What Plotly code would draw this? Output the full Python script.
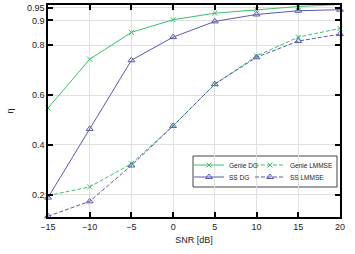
import plotly.graph_objects as go

snr = [-15, -10, -5, 0, 5, 10, 15, 20]
genie_dg = [0.548, 0.744, 0.852, 0.903, 0.929, 0.944, 0.956, 0.964]
ss_dg = [0.188, 0.464, 0.740, 0.833, 0.896, 0.924, 0.939, 0.943]
genie_lmmse = [0.196, 0.231, 0.324, 0.477, 0.644, 0.757, 0.833, 0.868]
ss_lmmse = [0.113, 0.173, 0.317, 0.476, 0.644, 0.752, 0.817, 0.845]
yticks = [0.2, 0.4, 0.6, 0.8, 0.9, 0.95]
ytick_text = ["0.2", "0.4", "0.6", "0.8", "0.9", "0.95"]
xticks = [-15, -10, -5, 0, 5, 10, 15, 20]

green = "#3cbf6e"
blue = "#5a5aaa"
dash_style = "4px,2px"

fig = go.Figure()
fig.add_trace(go.Scatter(x=snr, y=genie_dg, name="Genie DG", mode="lines+markers",
                         line=dict(color=green, width=1),
                         marker=dict(symbol="x-thin", size=5, line=dict(color=green, width=1)),
                         legend="legend"))
fig.add_trace(go.Scatter(x=snr, y=genie_lmmse, name="Genie LMMSE", mode="lines+markers",
                         line=dict(color=green, width=1, dash=dash_style),
                         marker=dict(symbol="x-thin", size=5, line=dict(color=green, width=1)),
                         legend="legend2"))
fig.add_trace(go.Scatter(x=snr, y=ss_dg, name="SS DG", mode="lines+markers",
                         line=dict(color=blue, width=1),
                         marker=dict(symbol="triangle-up-open", size=6, color=blue,
                                     line=dict(color=blue, width=1)),
                         legend="legend3"))
fig.add_trace(go.Scatter(x=snr, y=ss_lmmse, name="SS LMMSE", mode="lines+markers",
                         line=dict(color=blue, width=1, dash=dash_style),
                         marker=dict(symbol="triangle-up-open", size=6, color=blue,
                                     line=dict(color=blue, width=1)),
                         legend="legend4"))
for tr in fig.data:
    tr.showlegend = True
    tr.cliponaxis = False

axis_common = dict(showline=True, linecolor="black", linewidth=1.5, mirror="ticks",
                   ticks="inside", ticklen=5, tickwidth=1.5, tickcolor="black",
                   showgrid=True, gridcolor="#e0e0e0", gridwidth=1, zeroline=False,
                   tickfont=dict(size=9, color="#222"))

fig.update_xaxes(range=[-15, 20], tickvals=xticks,
                 title=dict(text="SNR [dB]", font=dict(size=9, color="#222"), standoff=6),
                 **axis_common)
fig.update_yaxes(range=[0.11, 0.962], tickvals=yticks, ticktext=ytick_text,
                 title=dict(text="η", font=dict(size=9, color="#222"), standoff=12),
                 **axis_common)

leg_common = dict(orientation="v", bgcolor="rgba(0,0,0,0)", borderwidth=0,
                  font=dict(size=6.5, color="#222"), itemwidth=30,
                  xanchor="left", yanchor="middle", visible=True)
W = 292.0
H = 212.0
def px(xp):
    return (xp - 48) / W
def py(yp):
    return (217 - yp) / H

fig.update_layout(
    showlegend=True,
    legend=dict(x=px(189), y=py(165), **leg_common),
    legend2=dict(x=px(250), y=py(165), **leg_common),
    legend3=dict(x=px(189), y=py(177), **leg_common),
    legend4=dict(x=px(250), y=py(177), **leg_common),
)

fig.add_shape(type="rect", xref="paper", yref="paper", x0=px(193), x1=px(337), y0=py(187), y1=py(156),
              line=dict(color="#444", width=1), fillcolor="white", layer="below")

fig.update_layout(width=355, height=254,
                  margin=dict(l=48, r=15, t=5, b=37, autoexpand=False),
                  plot_bgcolor="white", paper_bgcolor="white",
                  font=dict(family="Liberation Sans", size=9, color="#222"))

fig.write_html("out.html", config={"displayModeBar": False},
               post_script="document.body.style.margin='0';")
